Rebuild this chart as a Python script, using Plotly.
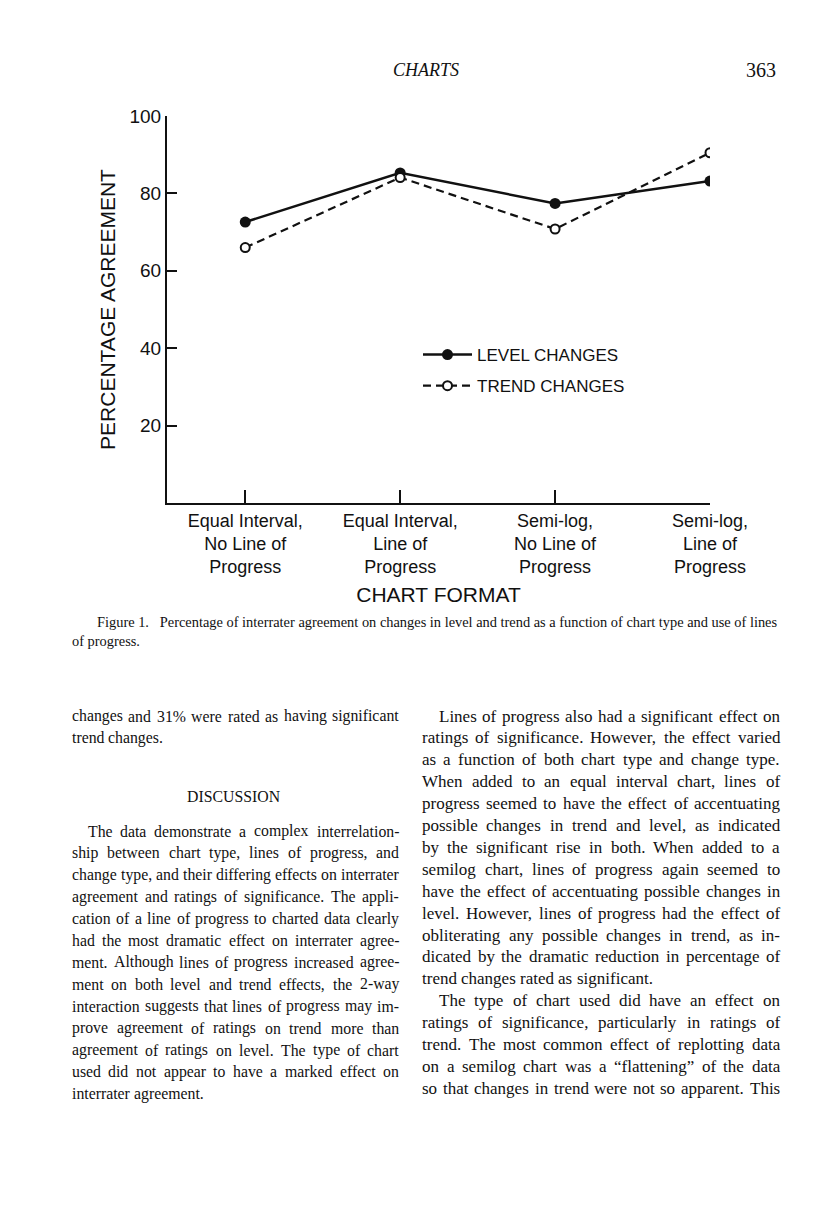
import plotly.graph_objects as go

# ---------------- data ----------------
categories = [
    "Equal Interval,<br>No Line of<br>Progress",
    "Equal Interval,<br>Line of<br>Progress",
    "Semi-log,<br>No Line of<br>Progress",
    "Semi-log,<br>Line of<br>Progress",
]
level_changes = [72.6, 85.3, 77.4, 83.2]
trend_changes = [66.0, 84.1, 70.8, 90.5]
y_ticks = [20, 40, 60, 80, 100]

header_title = "CHARTS"
page_number = "363"
caption_lines = [
    "Figure 1.   Percentage of interrater agreement on changes in level and trend as a function of chart type and use of lines",
    "of progress.",
]
left_col_top = [
    "changes and 31% were rated as having significant",
    "trend changes.",
]
left_heading = "DISCUSSION"
left_col_para = [
    "The data demonstrate a complex interrelation-",
    "ship between chart type, lines of progress, and",
    "change type, and their differing effects on interrater",
    "agreement and ratings of significance. The appli-",
    "cation of a line of progress to charted data clearly",
    "had the most dramatic effect on interrater agree-",
    "ment. Although lines of progress increased agree-",
    "ment on both level and trend effects, the 2-way",
    "interaction suggests that lines of progress may im-",
    "prove agreement of ratings on trend more than",
    "agreement of ratings on level. The type of chart",
    "used did not appear to have a marked effect on",
    "interrater agreement.",
]
right_col = [
    "Lines of progress also had a significant effect on",
    "ratings of significance. However, the effect varied",
    "as a function of both chart type and change type.",
    "When added to an equal interval chart, lines of",
    "progress seemed to have the effect of accentuating",
    "possible changes in trend and level, as indicated",
    "by the significant rise in both. When added to a",
    "semilog chart, lines of progress again seemed to",
    "have the effect of accentuating possible changes in",
    "level. However, lines of progress had the effect of",
    "obliterating any possible changes in trend, as in-",
    "dicated by the dramatic reduction in percentage of",
    "trend changes rated as significant.",
    "The type of chart used did have an effect on",
    "ratings of significance, particularly in ratings of",
    "trend. The most common effect of replotting data",
    "on a semilog chart was a \u201cflattening\u201d of the data",
    "so that changes in trend were not so apparent. This",
]
right_indent_lines = {0, 13}
right_last_lines = {12}

# ---------------- layout geometry ----------------
OFF = 8                      # default page margin of the html body
W, H = 816 - OFF, 1205 - OFF
ML, MR, MT, MB = 159, 106, 108, 702
PW, PH = W - ML - MR, H - MT - MB


def px(xp):
    """page pixel x -> paper coordinate"""
    return (xp - OFF - ML) / PW


def py(yp):
    """page pixel y -> paper coordinate"""
    return (H - MB - (yp - OFF)) / PH


SANS = "Liberation Sans, Arial, sans-serif"
SERIF = "Liberation Serif, Times New Roman, serif"
INK = "#111111"

# Times (Liberation Serif) advance widths, 1/1000 em, for justified text
_TW = {
    " ": 250, "!": 333, "%": 833, "'": 333, "(": 333, ")": 333, ",": 250, "-": 333,
    ".": 250, "/": 278, ":": 278, ";": 278, "?": 444,
    "\u201c": 444, "\u201d": 444,
    "A": 722, "B": 667, "C": 667, "D": 722, "E": 611, "F": 556, "G": 722, "H": 722,
    "I": 333, "J": 389, "K": 722, "L": 611, "M": 889, "N": 722, "O": 722, "P": 556,
    "Q": 722, "R": 667, "S": 556, "T": 611, "U": 722, "V": 722, "W": 944, "X": 722,
    "Y": 722, "Z": 611,
    "a": 444, "b": 500, "c": 444, "d": 500, "e": 444, "f": 333, "g": 500, "h": 500,
    "i": 278, "j": 278, "k": 500, "l": 278, "m": 778, "n": 500, "o": 500, "p": 500,
    "q": 500, "r": 333, "s": 389, "t": 278, "u": 500, "v": 500, "w": 722, "x": 500,
    "y": 500, "z": 444,
}


def text_width(s, size):
    return sum(_TW.get(c, 500) for c in s) * size / 1000.0


def justified_words(line, x0, x1, y, size, last=False):
    words = line.split(" ")
    widths = [text_width(w, size) for w in words]
    if last or len(words) == 1:
        gap = text_width(" ", size)
    else:
        gap = (x1 - x0 - sum(widths)) / (len(words) - 1)
    out = []
    x = x0
    for w, wd in zip(words, widths):
        out.append(dict(text=w, x=px(x), y=py(y), xanchor="left", yanchor="middle",
                        font=dict(family=SERIF, size=size, color=INK)))
        x += wd + gap
    return out


x_vals = list(range(1, len(categories) + 1))

fig = go.Figure()
fig.add_trace(go.Scatter(
    x=x_vals, y=level_changes, mode="lines+markers", name="LEVEL CHANGES",
    line=dict(color=INK, width=2.5),
    marker=dict(symbol="circle", size=11, color=INK),
    legendgroup="a",
))
fig.add_trace(go.Scatter(
    x=x_vals, y=trend_changes, mode="lines+markers", name="TREND CHANGES",
    line=dict(color=INK, width=2.2, dash="8px,5px"),
    marker=dict(symbol="circle", size=9, color="white", line=dict(color=INK, width=2)),
    legendgroup="b",
))

annotations = []
# header
annotations.append(dict(text="<i>" + header_title + "</i>", x=px(426), y=py(70),
                        xanchor="center", yanchor="middle",
                        font=dict(family=SERIF, size=18, color=INK)))
annotations.append(dict(text=page_number, x=px(778), y=py(70),
                        xanchor="right", yanchor="middle",
                        font=dict(family=SERIF, size=20, color=INK)))
# caption
for i, t in enumerate(caption_lines):
    annotations.append(dict(text=t, x=px(95 if i == 0 else 70), y=py(622 + 19 * i),
                            xanchor="left", yanchor="middle",
                            font=dict(family=SERIF, size=14.4, color=INK)))
# body text (justified columns)
LS = 21.9
BODY_L = 15.8
BODY_R = 17
LX0, LX1 = 70, 397
RX0, RX1 = 420, 778
for i, t in enumerate(left_col_top):
    annotations += justified_words(t, LX0, LX1, 716 + LS * i, BODY_L,
                                   last=(i == len(left_col_top) - 1))
annotations.append(dict(text=left_heading, x=px((LX0 + LX1) / 2), y=py(796),
                        xanchor="center", yanchor="middle",
                        font=dict(family=SERIF, size=BODY_L, color=INK)))
for i, t in enumerate(left_col_para):
    annotations += justified_words(t, LX0 + (16 if i == 0 else 0), LX1, 831 + LS * i, BODY_L,
                                   last=(i == len(left_col_para) - 1))
for i, t in enumerate(right_col):
    annotations += justified_words(t, RX0 + (17 if i in right_indent_lines else 0), RX1,
                                   716 + LS * i, BODY_R, last=(i in right_last_lines))
for a in annotations:
    a.update(xref="paper", yref="paper", showarrow=False)

fig.update_layout(
    width=W, height=H,
    margin=dict(l=ML, r=MR, t=MT, b=MB),
    paper_bgcolor="white", plot_bgcolor="white",
    showlegend=True,
    legend=dict(x=px(418), y=py(337), xanchor="left", yanchor="top",
                font=dict(family=SANS, size=17, color=INK),
                bgcolor="rgba(0,0,0,0)", tracegroupgap=6, itemwidth=49),
    annotations=annotations,
    xaxis=dict(
        range=[0.495, 4.0], tickvals=x_vals, ticktext=categories,
        showline=True, linecolor=INK, linewidth=2,
        ticks="inside", ticklen=13, tickwidth=2, tickcolor=INK,
        showgrid=False, zeroline=False,
        tickfont=dict(family=SANS, size=18, color=INK),
        title=dict(text="CHART FORMAT", font=dict(family=SANS, size=21, color=INK), standoff=11),
    ),
    yaxis=dict(
        range=[0, 100], tickvals=y_ticks,
        showline=True, linecolor=INK, linewidth=2,
        ticks="inside", ticklen=10, tickwidth=2, tickcolor=INK,
        showgrid=False, zeroline=False,
        tickfont=dict(family=SANS, size=19, color=INK),
        title=dict(text="PERCENTAGE AGREEMENT", font=dict(family=SANS, size=21, color=INK), standoff=8),
    ),
)

fig.write_html("out.html")
